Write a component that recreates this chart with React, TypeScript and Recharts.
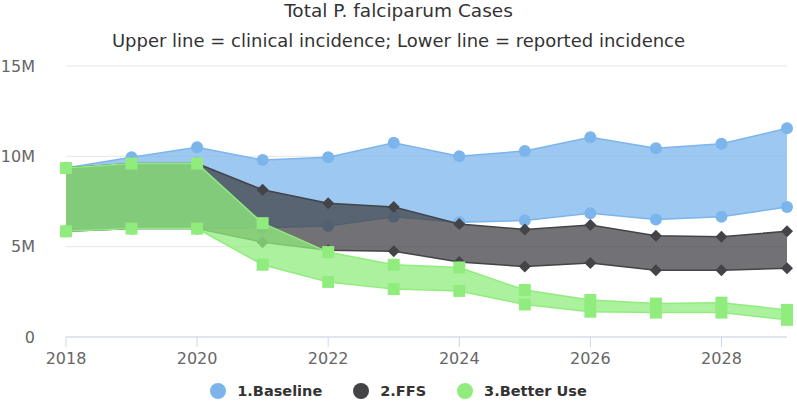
import React from "react";
import {
  ComposedChart,
  Area,
  XAxis,
  YAxis,
  CartesianGrid,
} from "recharts";

// values in millions of cases
const years = [2018, 2019, 2020, 2021, 2022, 2023, 2024, 2025, 2026, 2027, 2028, 2029];
const baselineHigh = [9.35, 9.95, 10.5, 9.8, 9.95, 10.75, 10.0, 10.3, 11.05, 10.45, 10.7, 11.55];
const baselineLow = [5.85, 6.0, 6.0, 6.05, 6.15, 6.65, 6.35, 6.45, 6.85, 6.5, 6.65, 7.2];
const ffsHigh = [9.35, 9.6, 9.6, 8.15, 7.4, 7.2, 6.25, 5.95, 6.2, 5.6, 5.55, 5.85];
const ffsLow = [5.85, 6.0, 6.0, 5.25, 4.8, 4.75, 4.15, 3.9, 4.1, 3.7, 3.7, 3.8];
const betterHigh = [9.35, 9.6, 9.6, 6.3, 4.7, 4.0, 3.85, 2.6, 2.05, 1.85, 1.9, 1.5];
const betterLow = [5.85, 6.0, 6.0, 4.0, 3.05, 2.65, 2.55, 1.8, 1.4, 1.35, 1.35, 0.95];

const yTicks = [0, 5, 10, 15];
const xTicks = [2018, 2020, 2022, 2024, 2026, 2028];

const data = years.map((year, i) => ({
  year,
  baseLow: baselineLow[i],
  baseHigh: baselineHigh[i],
  ffsLow: ffsLow[i],
  ffsHigh: ffsHigh[i],
  betterLow: betterLow[i],
  betterHigh: betterHigh[i],
}));

const FONT = "'DejaVu Sans', Verdana, sans-serif";
const W = 797;
const H = 401;

type Shape = "circle" | "diamond" | "square";
type Series = { name: string; low: string; high: string; color: string; shape: Shape };

const series: Series[] = [
  { name: "1.Baseline", low: "baseLow", high: "baseHigh", color: "#7cb5ec", shape: "circle" },
  { name: "2.FFS", low: "ffsLow", high: "ffsHigh", color: "#434348", shape: "diamond" },
  { name: "3.Better Use", low: "betterLow", high: "betterHigh", color: "#90ed7d", shape: "square" },
];

function marker(shape: Shape, color: string) {
  return (p: any) => {
    const { cx, cy, index } = p;
    if (cx == null || cy == null) return <g key={index} />;
    if (shape === "circle") return <circle key={index} cx={cx} cy={cy} r={6} fill={color} />;
    if (shape === "diamond")
      return (
        <polygon
          key={index}
          points={`${cx},${cy - 6} ${cx + 6},${cy} ${cx},${cy + 6} ${cx - 6},${cy}`}
          fill={color}
        />
      );
    return <rect key={index} x={cx - 6} y={cy - 6} width={12} height={12} fill={color} />;
  };
}

// one chart per series, stacked, so each range area covers the markers of the series below it
function SeriesLayer({ s, axes }: { s: Series; axes: boolean }) {
  const margin = axes
    ? { top: 66, right: 10, left: 0, bottom: 34 }
    : { top: 66, right: 10, left: 66, bottom: 64 };
  return (
    <div style={{ position: "absolute", top: 0, left: 0 }}>
      <ComposedChart width={W} height={H} data={data} margin={margin}>
        {axes && <CartesianGrid horizontal vertical={false} stroke="#e6e6e6" />}
        <XAxis
          dataKey="year"
          type="number"
          domain={[2018, 2029]}
          ticks={xTicks}
          hide={!axes}
          height={30}
          stroke="#ccd6eb"
          tickSize={10}
          tickMargin={6}
          tick={{ fill: "#666", fontSize: 16, fontFamily: FONT }}
        />
        <YAxis
          domain={[0, 15]}
          ticks={yTicks}
          hide={!axes}
          width={66}
          axisLine={false}
          tickLine={false}
          tickSize={0}
          tickMargin={31}
          tick={{ fill: "#666", fontSize: 16, fontFamily: FONT }}
          tickFormatter={(v: number) => (v === 0 ? "0" : `${v}M`)}
        />
        <Area
          type="linear"
          dataKey={(d: any) => [d[s.low], d[s.high]]}
          stroke="none"
          fill={s.color}
          fillOpacity={0.75}
          activeDot={false}
          isAnimationActive={false}
        />
        <Area
          type="linear"
          dataKey={s.high}
          stroke={s.color}
          strokeWidth={1.5}
          fill="none"
          dot={marker(s.shape, s.color)}
          activeDot={false}
          isAnimationActive={false}
        />
        <Area
          type="linear"
          dataKey={s.low}
          stroke={s.color}
          strokeWidth={1.5}
          fill="none"
          dot={marker(s.shape, s.color)}
          activeDot={false}
          isAnimationActive={false}
        />
      </ComposedChart>
    </div>
  );
}

export default function App() {
  return (
    <div style={{ position: "relative", width: W, height: H, fontFamily: FONT, background: "#fff" }}>
      <style>{`body{margin:0}`}</style>
      {series.map((s, i) => (
        <SeriesLayer key={s.name} s={s} axes={i === 0} />
      ))}
      <div style={{ position: "absolute", top: -1, left: 0, width: W, textAlign: "center", fontSize: 18.5, lineHeight: "24px", color: "#333" }}>
        Total P. falciparum Cases
      </div>
      <div style={{ position: "absolute", top: 29, left: 0, width: W, textAlign: "center", fontSize: 18, lineHeight: "24px", color: "#333" }}>
        Upper line = clinical incidence; Lower line = reported incidence
      </div>
      <div
        style={{
          position: "absolute",
          top: 380,
          left: 0,
          width: W,
          display: "flex",
          justifyContent: "center",
          gap: 31,
          fontSize: 14.5,
          fontWeight: "bold",
          color: "#333",
          lineHeight: "22px",
        }}
      >
        {series.map((s) => (
          <div key={s.name} style={{ display: "flex", alignItems: "center" }}>
            <span style={{ display: "inline-block", width: 16, height: 16, borderRadius: 8, background: s.color, marginRight: 11 }} />
            {s.name}
          </div>
        ))}
      </div>
    </div>
  );
}
